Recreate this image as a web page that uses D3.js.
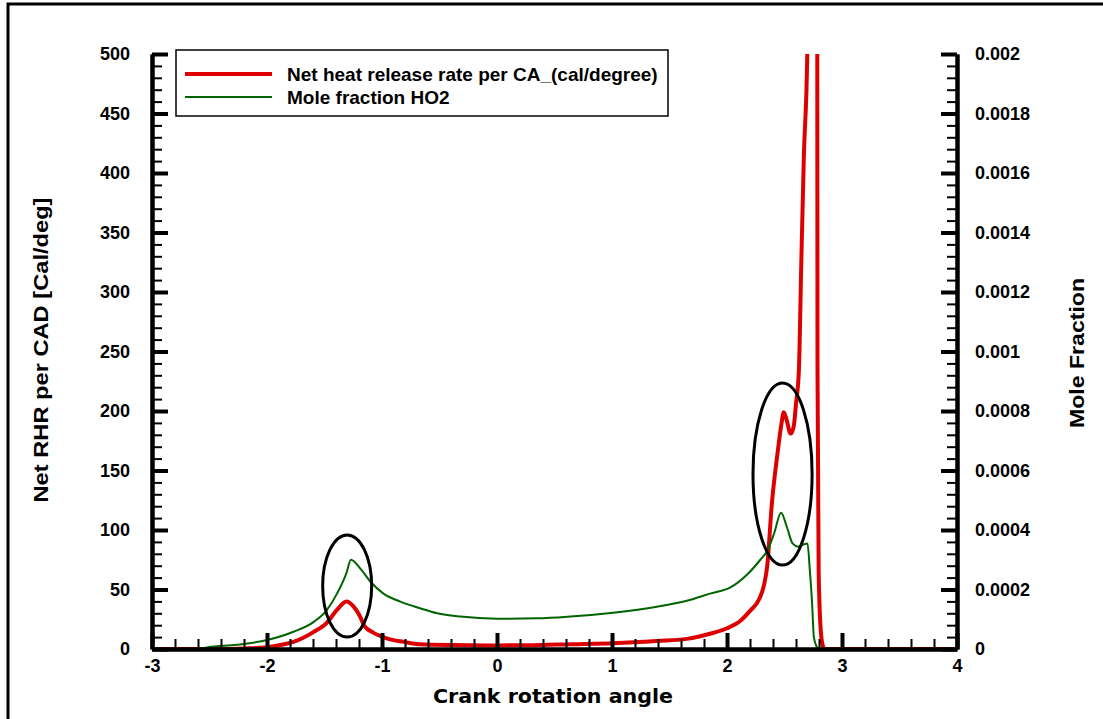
<!DOCTYPE html>
<html lang="en">
<head>
    <meta charset="utf-8">
    <script src="https://d3js.org/d3.v7.min.js"></script>
    <style>
        body { margin: 0; background: #fff; }
        svg { display: block; font-family: "Liberation Sans", Arial, sans-serif; }
    </style>
</head>
<body>
    <div id="chart"></div>
    <script>
        // crank angle / net heat release rate (cal/deg)
        const rhrAngle = [-3, -2.4, -2.2, -2.0, -1.85, -1.77, -1.6, -1.48, -1.39, -1.31, -1.25, -1.2, -1.15, -1.08, -0.96, -0.81, -0.67, -0.38, 0, 0.3, 0.64, 1.01, 1.39, 1.65, 1.86, 2.0, 2.12, 2.2, 2.28, 2.32, 2.35, 2.39, 2.44, 2.47, 2.494, 2.52, 2.553, 2.58, 2.60, 2.625, 2.645, 2.668, 2.698, 2.71, 2.75, 2.775, 2.785, 2.787, 2.797, 2.815, 2.835, 2.85, 3.2, 4];
        const rhrValue = [0, 0, 0.5, 1.5, 4, 6, 14, 22, 33, 40, 36, 29, 19, 14, 9, 6, 4, 3.3, 3, 3.2, 4, 4.8, 6.7, 8.5, 13, 17.4, 24, 32, 42, 53, 70, 122, 165, 187, 199, 192, 181, 187, 206, 234, 320, 413, 500, 700, 950, 700, 500, 234, 66, 16, 2, 0, 0, 0];

        // crank angle / mole fraction HO2
        const ho2Angle = [-3, -2.6, -2.51, -2.26, -2.0, -1.77, -1.59, -1.48, -1.39, -1.31, -1.27, -1.19, -1.10, -0.99, -0.84, -0.67, -0.52, -0.32, 0, 0.35, 0.64, 1.01, 1.39, 1.65, 1.86, 2.03, 2.18, 2.29, 2.35, 2.41, 2.47, 2.52, 2.57, 2.62, 2.67, 2.70, 2.72, 2.74, 2.755, 2.78, 2.80, 4];
        const ho2Value = [0, 0, 0.000006, 0.000014, 0.00003, 0.000058, 0.000092, 0.000131, 0.000187, 0.000254, 0.0003, 0.000271, 0.000226, 0.000187, 0.000159, 0.000137, 0.00012, 0.000109, 0.000102, 0.000103, 0.000109, 0.000122, 0.000142, 0.000162, 0.000187, 0.000207, 0.000252, 0.0003, 0.00033, 0.000389, 0.000458, 0.000411, 0.000355, 0.000344, 0.000352, 0.000355, 0.000266, 0.000154, 0.000041, 0.000008, 0, 0];

        const xTicks = [-3, -2, -1, 0, 1, 2, 3, 4];
        const leftTicks = [0, 50, 100, 150, 200, 250, 300, 350, 400, 450, 500];
        const rightTicks = [0, 0.0002, 0.0004, 0.0006, 0.0008, 0.001, 0.0012, 0.0014, 0.0016, 0.0018, 0.002];
        const rightTickLabels = ["0", "0.0002", "0.0004", "0.0006", "0.0008", "0.001", "0.0012", "0.0014", "0.0016", "0.0018", "0.002"];

        const seriesNames = ["Net heat release rate per CA_(cal/degree)", "Mole fraction HO2"];
        const seriesColors = ["#dd0000", "#006400"];

        // circled regions: centre angle, centre RHR, half-width (deg), half-height (RHR)
        const circleAngle = [-1.303, 2.483];
        const circleRhr = [52.9, 147];
        const circleHalfWidth = [0.213, 0.257];
        const circleHalfHeight = [42.9, 76.5];

        const W = 1103, H = 719;
        const margin = { top: 54, right: 146, bottom: 70, left: 152 };

        const svg = d3.select("#chart").append("svg")
            .attr("width", W)
            .attr("height", H);

        // outer frame
        svg.append("rect")
            .attr("x", 8).attr("y", 4)
            .attr("width", W + 20).attr("height", H + 20)
            .attr("fill", "none").attr("stroke", "#000").attr("stroke-width", 3);

        const x = d3.scaleLinear().domain([-3, 4]).range([margin.left, W - margin.right]);
        const yL = d3.scaleLinear().domain([0, 500]).range([H - margin.bottom, margin.top]);
        const yR = d3.scaleLinear().domain([0, 0.002]).range([H - margin.bottom, margin.top]);

        svg.append("defs").append("clipPath").attr("id", "plot-clip")
            .append("rect")
            .attr("x", margin.left).attr("y", margin.top)
            .attr("width", x(4) - x(-3)).attr("height", yL(0) - yL(500));

        // lines
        const rhrData = rhrAngle.map((a, i) => ({ a, v: rhrValue[i] }));
        const ho2Data = ho2Angle.map((a, i) => ({ a, v: ho2Value[i] }));

        const lines = svg.append("g").attr("clip-path", "url(#plot-clip)");
        lines.append("path")
            .datum(rhrData)
            .attr("fill", "none")
            .attr("stroke", seriesColors[0])
            .attr("stroke-width", 4)
            .attr("stroke-linejoin", "round")
            .attr("d", d3.line().x(d => x(d.a)).y(d => yL(d.v)).curve(d3.curveMonotoneX));
        lines.append("path")
            .datum(ho2Data)
            .attr("fill", "none")
            .attr("stroke", seriesColors[1])
            .attr("stroke-width", 2)
            .attr("stroke-linejoin", "round")
            .attr("d", d3.line().x(d => x(d.a)).y(d => yR(d.v)).curve(d3.curveMonotoneX));

        // ellipses
        circleAngle.forEach((a, i) => {
            svg.append("ellipse")
                .attr("cx", x(a))
                .attr("cy", yL(circleRhr[i]))
                .attr("rx", x(a + circleHalfWidth[i]) - x(a))
                .attr("ry", yL(0) - yL(circleHalfHeight[i]))
                .attr("fill", "none")
                .attr("stroke", "#000")
                .attr("stroke-width", 3);
        });

        // axes
        const minor = (lo, hi, step) => d3.range(Math.round((hi - lo) / step) + 1).map(i => lo + i * step);

        function styleAxis(g, w) {
            g.select(".domain").attr("stroke-width", 4);
            g.selectAll(".tick line").attr("stroke-width", w);
            g.selectAll("text").attr("font-size", 18).attr("font-weight", "bold").attr("fill", "#000");
        }

        svg.append("g").attr("transform", `translate(0,${yL(0)})`)
            .call(d3.axisBottom(x).tickValues(minor(-3, 4, 0.2)).tickSizeInner(-10).tickSizeOuter(0).tickFormat(""))
            .call(g => styleAxis(g, 2));
        svg.append("g").attr("transform", `translate(0,${yL(0)})`)
            .call(d3.axisBottom(x).tickValues(xTicks).tickSizeInner(-16).tickSizeOuter(0).tickPadding(10).tickFormat(d => String(d)))
            .call(g => styleAxis(g, 4));

        svg.append("g").attr("transform", `translate(${x(-3)},0)`)
            .call(d3.axisLeft(yL).tickValues(minor(0, 500, 10)).tickSizeInner(-10).tickSizeOuter(0).tickFormat(""))
            .call(g => styleAxis(g, 2));
        svg.append("g").attr("transform", `translate(${x(-3)},0)`)
            .call(d3.axisLeft(yL).tickValues(leftTicks).tickSizeInner(-16).tickSizeOuter(0).tickPadding(22))
            .call(g => styleAxis(g, 4));

        svg.append("g").attr("transform", `translate(${x(4)},0)`)
            .call(d3.axisRight(yR).tickValues(minor(0, 0.002, 0.00004)).tickSizeInner(-10).tickSizeOuter(0).tickFormat(""))
            .call(g => styleAxis(g, 2));
        svg.append("g").attr("transform", `translate(${x(4)},0)`)
            .call(d3.axisRight(yR).tickValues(rightTicks).tickSizeInner(-16).tickSizeOuter(0).tickPadding(18)
                .tickFormat((d, i) => rightTickLabels[i]))
            .call(g => styleAxis(g, 4));

        // axis titles
        svg.append("text")
            .attr("x", 553)
            .attr("y", 703)
            .attr("text-anchor", "middle")
            .attr("font-family", "'DejaVu Sans', sans-serif")
            .attr("font-size", 20)
            .attr("font-weight", "bold")
            .attr("textLength", 240)
            .attr("lengthAdjust", "spacingAndGlyphs")
            .text("Crank rotation angle");

        svg.append("text")
            .attr("transform", `translate(48,350) rotate(-90)`)
            .attr("text-anchor", "middle")
            .attr("font-size", 20)
            .attr("font-weight", "bold")
            .attr("textLength", 305)
            .attr("lengthAdjust", "spacingAndGlyphs")
            .text("Net RHR per CAD [Cal/deg]");

        svg.append("text")
            .attr("transform", `translate(1084,353) rotate(-90)`)
            .attr("text-anchor", "middle")
            .attr("font-size", 20)
            .attr("font-weight", "bold")
            .attr("textLength", 150)
            .attr("lengthAdjust", "spacingAndGlyphs")
            .text("Mole Fraction");

        // legend
        const legend = svg.append("g").attr("transform", "translate(176,50)");
        legend.append("rect")
            .attr("width", 492).attr("height", 66)
            .attr("fill", "#fff").attr("stroke", "#000").attr("stroke-width", 1.5);
        seriesNames.forEach((name, i) => {
            const yy = 24 + i * 23;
            legend.append("line")
                .attr("x1", 9).attr("x2", 96).attr("y1", yy).attr("y2", yy)
                .attr("stroke", seriesColors[i]).attr("stroke-width", i === 0 ? 4 : 2);
            legend.append("text")
                .attr("x", 111).attr("y", yy + 7)
                .attr("font-size", 19).attr("font-weight", "bold")
                .text(name);
        });
    </script>
</body>
</html>
